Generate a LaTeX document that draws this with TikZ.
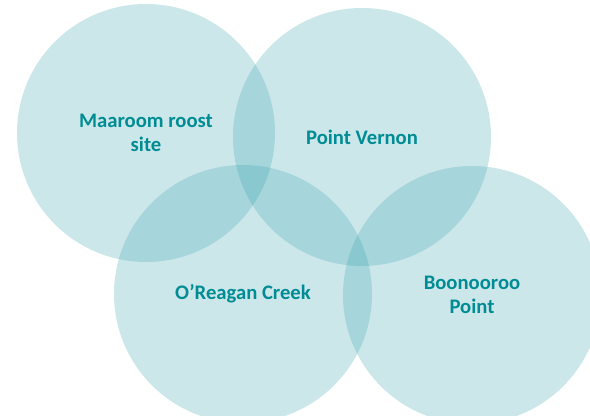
\documentclass[tikz,border=0pt]{standalone}
\usepackage{fontspec}
\setmainfont{Carlito}
\usepackage{tikz}
\definecolor{siteteal}{RGB}{55,161,173}
\definecolor{sitetext}{RGB}{0,140,148}
\tikzset{
  site/.style={circle, fill=siteteal, fill opacity=0.255, text opacity=1,
    minimum size=193.5pt, inner sep=0pt, align=center, text=sitetext,
    font=\fontsize{15.5}{18.5}\selectfont\bfseries}
}
\begin{document}
\begin{tikzpicture}[x=0.75pt, y=-0.75pt]
  \useasboundingbox (0,0) rectangle (590,416);

  % roost sites
  \node[site] (maaroom) at (146,133) {Maaroom roost\\site};
  \node[site] (vernon) at (362,137) {Point Vernon};
  \node[site] (oreagan) at (243,294) {O’Reagan Creek};
  \node[site] (boonooroo) at (472,295) {Boonooroo\\Point};
\end{tikzpicture}
\end{document}
